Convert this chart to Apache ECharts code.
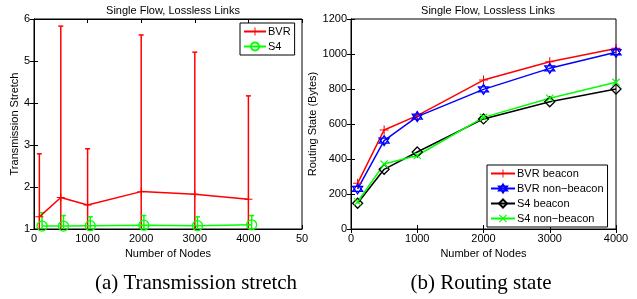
<!DOCTYPE html>
<html>
<head>
<meta charset="utf-8">
<script src="https://cdn.jsdelivr.net/npm/echarts@6/dist/echarts.min.js"></script>
<style>
  html, body { margin: 0; padding: 0; background: #fff; }
  #chart { width: 637px; height: 299px; }
</style>
</head>
<body>
<div id="chart"></div>
<script>
"use strict";
// (a) transmission stretch
var stretchTicks = ["0", "1000", "2000", "3000", "4000", "50"];
var bvrNodes = [100, 500, 1000, 2000, 3000, 4000];
var bvrStretch = [1.29, 1.75, 1.57, 1.89, 1.83, 1.71];
var bvrLow = [1, 1, 1, 1, 1, 1];
var bvrHigh = [2.79, 5.83, 2.91, 5.62, 5.21, 4.17];
var s4Nodes = [150, 550, 1050, 2050, 3050, 4060];
var s4Stretch = [1.07, 1.07, 1.08, 1.09, 1.08, 1.1];
var s4Low = [1, 1, 1, 1, 1, 1];
var s4High = [1.39, 1.32, 1.29, 1.32, 1.29, 1.32];

// (b) routing state
var stateNodes = [100, 500, 1000, 2000, 3000, 4000];
var bvrBeacon = [261, 566, 648, 851, 956, 1032];
var bvrNonBeacon = [229, 505, 642, 798, 918, 1010];
var s4Beacon = [147, 341, 440, 629, 727, 800];
var s4NonBeacon = [156, 371, 420, 638, 747, 838];

var RED = "#ff0000", GREEN = "#00ff00", BLUE = "#0000ff", BLACK = "#000000";
var PLUS = "path://M0,4.4H10V5.6H0Z M4.4,0H5.6V10H4.4Z";
var CROSS = "path://M0,1L1,0L10,9L9,10Z M9,0L10,1L1,10L0,9Z";
var HEXA = "path://M5,0L9.33,7.5L0.67,7.5Z M5,10L0.67,2.5L9.33,2.5Z";

function pairs(xs, ys) {
  return xs.map(function (x, i) { return [x, ys[i]]; });
}
function triples(xs, lo, hi) {
  return xs.map(function (x, i) { return [x, lo[i], hi[i]]; });
}

function errorBars(color) {
  return function (params, api) {
    var x = api.value(0);
    var p1 = api.coord([x, api.value(1)]);
    var p2 = api.coord([x, api.value(2)]);
    var w = 2.5;
    var st = { stroke: color, lineWidth: 1.5 };
    return {
      type: "group",
      children: [
        { type: "line", shape: { x1: p1[0], y1: p1[1], x2: p2[0], y2: p2[1] }, style: st },
        { type: "line", shape: { x1: p2[0] - w, y1: p2[1], x2: p2[0] + w, y2: p2[1] }, style: st },
        { type: "line", shape: { x1: p1[0] - w, y1: p1[1], x2: p1[0] + w, y2: p1[1] }, style: st },
      ],
    };
  };
}

var FONT = "Liberation Sans";

function xAx(grid, pos, max, labels) {
  return {
    type: "value", gridIndex: grid, position: pos, min: 0, max: max, interval: 1000,
    axisLine: { show: true, lineStyle: { color: "#000", width: 1 } },
    axisTick: { show: true, inside: true, length: 4, lineStyle: { color: "#000" } },
    splitLine: { show: false },
    axisLabel: labels ? {
      show: true, margin: 4, fontSize: 11, color: "#000", fontFamily: FONT,
      formatter: function (v) { return labels(v); },
    } : { show: false },
    name: labels ? "Number of Nodes" : "",
    nameLocation: "middle", nameGap: 16,
    nameTextStyle: { fontSize: 11, color: "#000", fontFamily: FONT },
  };
}

function yAx(grid, pos, min, max, step, name, gap) {
  return {
    type: "value", gridIndex: grid, position: pos, min: min, max: max, interval: step,
    axisLine: { show: true, lineStyle: { color: "#000", width: 1 } },
    axisTick: { show: true, inside: true, length: 4, lineStyle: { color: "#000" } },
    splitLine: { show: false },
    axisLabel: name ? {
      show: true, margin: 4, fontSize: 11, color: "#000", fontFamily: FONT,
      formatter: function (v) { return String(v); },
    } : { show: false },
    name: name || "",
    nameLocation: "middle", nameGap: gap || 0,
    nameTextStyle: { fontSize: 11, color: "#000", fontFamily: FONT },
  };
}

function lineSeries(name, xi, yi, data, color, symbol, size, hollow) {
  return {
    name: name, type: "line", xAxisIndex: xi, yAxisIndex: yi, data: data,
    symbol: symbol, symbolSize: size, showAllSymbol: true,
    lineStyle: { color: color, width: 1.5 },
    itemStyle: hollow
      ? { color: hollow, borderColor: color, borderWidth: 1.3 }
      : { color: color },
    emphasis: { disabled: true },
    z: 3,
  };
}

var chart = echarts.init(document.getElementById("chart"), null, { renderer: "canvas" });

chart.setOption({
  animation: false,
  backgroundColor: "#fff",
  textStyle: { fontFamily: FONT },
  title: [
    { text: "Single Flow, Lossless Links", left: 168, top: 0, textAlign: "center",
      textStyle: { fontSize: 11, fontWeight: "normal", color: "#000", fontFamily: FONT } },
    { text: "Single Flow, Lossless Links", left: 483, top: 0, textAlign: "center",
      textStyle: { fontSize: 11, fontWeight: "normal", color: "#000", fontFamily: FONT } },
    { text: "(a) Transmission stretch", left: 191, top: 268, textAlign: "center",
      textStyle: { fontSize: 21, fontWeight: "normal", color: "#000", fontFamily: "Liberation Serif" } },
    { text: "(b) Routing state", left: 476, top: 268, textAlign: "center",
      textStyle: { fontSize: 21, fontWeight: "normal", color: "#000", fontFamily: "Liberation Serif" } },
  ],
  grid: [
    { left: 34, top: 19, width: 268, height: 210, show: true, borderColor: "#000", borderWidth: 1 },
    { left: 351, top: 19, width: 265, height: 210, show: true, borderColor: "#000", borderWidth: 1 },
  ],
  xAxis: [
    xAx(0, "bottom", 5000, function (v) { return stretchTicks[v / 1000]; }),
    xAx(0, "top", 5000, null),
    xAx(1, "bottom", 4000, function (v) { return String(v); }),
    xAx(1, "top", 4000, null),
  ],
  yAxis: [
    yAx(0, "left", 1, 6, 1, "Transmission Stretch", 12),
    yAx(0, "right", 1, 6, 1, null),
    yAx(1, "left", 0, 1200, 200, "Routing State (Bytes)", 33),
    yAx(1, "right", 0, 1200, 200, null),
  ],
  legend: [
    {
      data: ["BVR", "S4"], orient: "vertical", left: 240, top: 23,
      itemWidth: 22, itemHeight: 10, itemGap: 4, padding: [3, 4, 3, 3],
      borderColor: "#000", borderWidth: 1, backgroundColor: "#fff",
      textStyle: { fontSize: 11, color: "#000", fontFamily: FONT, padding: [0, 0, 0, -3] },
      selectedMode: false,
    },
    {
      data: ["BVR beacon", "BVR non\u2212beacon", "S4 beacon", "S4 non\u2212beacon"],
      orient: "vertical", left: 487, top: 165,
      itemWidth: 24, itemHeight: 10, itemGap: 4, padding: [3, 4, 3, 3],
      borderColor: "#000", borderWidth: 1, backgroundColor: "#fff",
      textStyle: { fontSize: 11, color: "#000", fontFamily: FONT, padding: [0, 0, 0, -3] },
      selectedMode: false,
    },
  ],
  series: [
    {
      name: "bvr-err", type: "custom", xAxisIndex: 0, yAxisIndex: 0, clip: true,
      renderItem: errorBars(RED), encode: { x: 0, y: [1, 2] },
      data: triples(bvrNodes, bvrLow, bvrHigh), z: 2,
    },
    {
      name: "s4-err", type: "custom", xAxisIndex: 0, yAxisIndex: 0, clip: true,
      renderItem: errorBars(GREEN), encode: { x: 0, y: [1, 2] },
      data: triples(s4Nodes, s4Low, s4High), z: 2,
    },
    lineSeries("BVR", 0, 0, pairs(bvrNodes, bvrStretch), RED, PLUS, 8),
    lineSeries("S4", 0, 0, pairs(s4Nodes, s4Stretch), GREEN, "circle", 10, "rgba(0,0,0,0)"),

    lineSeries("BVR beacon", 2, 2, pairs(stateNodes, bvrBeacon), RED, PLUS, 9),
    lineSeries("BVR non\u2212beacon", 2, 2, pairs(stateNodes, bvrNonBeacon), BLUE, HEXA, 10, "rgba(0,0,0,0)"),
    lineSeries("S4 beacon", 2, 2, pairs(stateNodes, s4Beacon), BLACK, "diamond", 10, "rgba(0,0,0,0)"),
    lineSeries("S4 non\u2212beacon", 2, 2, pairs(stateNodes, s4NonBeacon), GREEN, CROSS, 8),
  ],
});
</script>
</body>
</html>
